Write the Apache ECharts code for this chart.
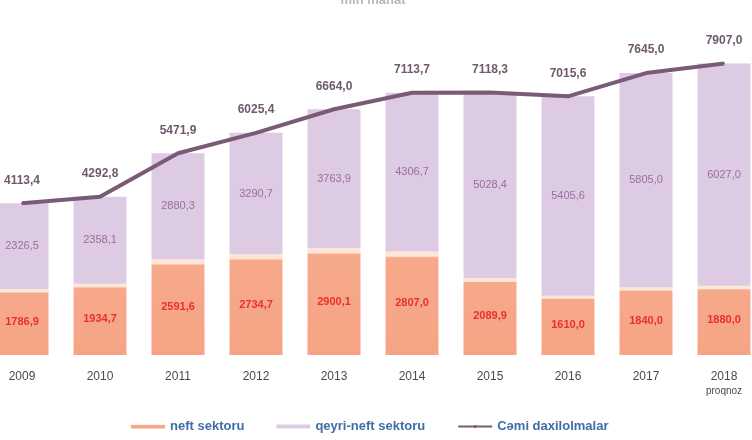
<!DOCTYPE html>
<html>
<head>
<meta charset="utf-8">
<script src="https://cdn.jsdelivr.net/npm/echarts@6/dist/echarts.min.js"></script>
<style>
  html, body { margin: 0; padding: 0; background: #fff; overflow: hidden; }
  body { width: 752px; height: 440px; position: relative; }
  /* chart is a bit wider than the page so the outer bars get cut like in the source */
  #chart { position: absolute; left: -17px; top: 0; width: 780px; height: 440px; }
</style>
</head>
<body>
<div id="chart"></div>
<script>
// years on the x axis
const years = ['2009', '2010', '2011', '2012', '2013', '2014', '2015', '2016', '2017', '2018'];
// oil sector revenue
const neft = [1786.9, 1934.7, 2591.6, 2734.7, 2900.1, 2807.0, 2089.9, 1610.0, 1840.0, 1880.0];
// non-oil sector revenue
const qeyriNeft = [2326.5, 2358.1, 2880.3, 3290.7, 3763.9, 4306.7, 5028.4, 5405.6, 5805.0, 6027.0];
// total revenue
const cemi = [4113.4, 4292.8, 5471.9, 6025.4, 6664.0, 7113.7, 7118.3, 7015.6, 7645.0, 7907.0];

const fmt = v => v.toFixed(1).replace('.', ',');

const chart = echarts.init(document.getElementById('chart'));

let option = {
  animation: false,
  title: {
    text: 'mln manat',
    left: 'center',
    top: -11,
    textStyle: { color: '#c2b3c4', fontSize: 13, fontWeight: 'bold', fontFamily: 'Liberation Sans' }
  },
  grid: { left: 0, right: 0, top: 60, bottom: 85 },
  legend: {
    left: 143,
    top: 415,
    itemWidth: 34,
    itemHeight: 4,
    itemGap: 32,
    textStyle: { color: '#3f6ea6', fontSize: 13, fontWeight: 'bold', fontFamily: 'Liberation Sans' },
    data: [
      { name: 'neft sektoru', icon: 'rect' },
      { name: 'qeyri-neft sektoru', icon: 'rect' },
      { name: 'Cəmi daxilolmalar' }
    ]
  },
  xAxis: {
    type: 'category',
    data: years,
    axisLine: { show: false },
    axisTick: { show: false },
    axisLabel: {
      interval: 0,
      margin: 16,
      color: '#4a4a4a',
      fontSize: 12,
      fontFamily: 'Liberation Sans',
      formatter: v => v === '2018' ? '2018\n{p|proqnoz}' : v,
      rich: { p: { fontSize: 10, color: '#4a4a4a', padding: [3, 0, 0, 0] } }
    }
  },
  yAxis: {
    type: 'value',
    min: 0,
    max: 8000,
    show: false,
    splitLine: { show: false }
  },
  series: [
    {
      name: 'neft sektoru',
      type: 'bar',
      stack: 'total',
      barWidth: 53,
      data: neft,
      itemStyle: {
        color: {
          type: 'linear', x: 0, y: 0, x2: 0, y2: 1,
          colorStops: [
            { offset: 0, color: '#fde6d6' },
            { offset: 0.045, color: '#fde6d6' },
            { offset: 0.06, color: '#f7a98b' },
            { offset: 1, color: '#f6a486' }
          ]
        }
      },
      label: {
        show: true,
        position: 'inside',
        color: '#e8302c',
        fontSize: 11,
        fontWeight: 'bold',
        fontFamily: 'Liberation Sans',
        formatter: p => fmt(p.value)
      }
    },
    {
      name: 'qeyri-neft sektoru',
      type: 'bar',
      stack: 'total',
      barWidth: 53,
      data: qeyriNeft,
      itemStyle: { color: '#dccbe2' },
      label: {
        show: true,
        position: 'inside',
        color: '#9a6ea0',
        fontSize: 11,
        fontFamily: 'Liberation Sans',
        formatter: p => fmt(p.value)
      }
    },
    {
      name: 'Cəmi daxilolmalar',
      type: 'line',
      data: cemi,
      symbol: 'circle',
      symbolSize: 2,
      showSymbol: true,
      lineStyle: { color: '#7a5b75', width: 4 },
      itemStyle: { color: '#7a5b75' },
      z: 5,
      label: {
        show: true,
        position: 'top',
        distance: 16,
        color: '#6f5a6d',
        fontSize: 12,
        fontWeight: 'bold',
        fontFamily: 'Liberation Sans',
        formatter: p => fmt(p.value)
      }
    }
  ]
};

chart.setOption(option);
</script>
</body>
</html>
